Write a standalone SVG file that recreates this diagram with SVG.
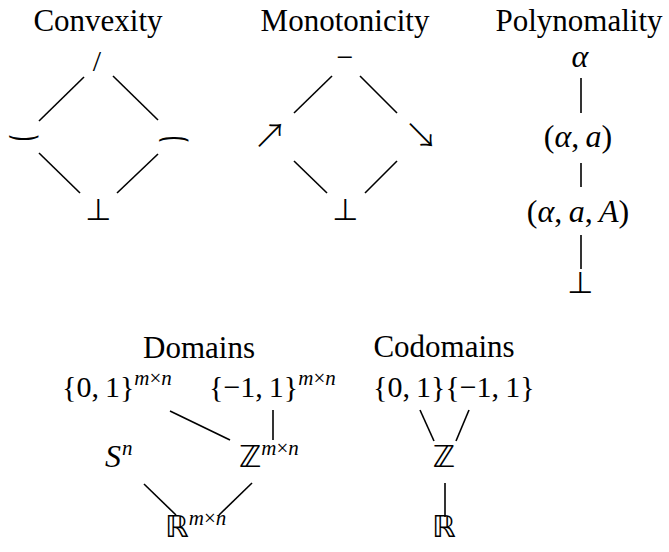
<svg xmlns="http://www.w3.org/2000/svg" width="669" height="552" viewBox="0 0 669 552">
  <style>
    text { font-family: "Liberation Serif", "DejaVu Serif", serif; fill: #000; }
    .title { font-size: 31px; text-anchor: middle; }
    .m { font-size: 30px; }
    .p { font-size: 32px; }
    .c { text-anchor: middle; }
    .i { font-style: italic; }
    .sup { font-size: 21px; font-style: italic; }
    .up { font-style: normal; }
    .sym { font-family: "DejaVu Sans", "DejaVu Serif", sans-serif; }
    .arr { font-family: "Noto Sans CJK JP", "DejaVu Sans", sans-serif; font-size: 34px; font-weight: 300; }
    .edges line { stroke: #000; stroke-width: 1.6; }
  </style>
  <rect width="669" height="552" fill="#fff"/>

  <!-- Convexity lattice -->
  <g id="convexity">
    <text class="title" x="98" y="31">Convexity</text>
    <g id="cvx-top"><text class="m c" x="97" y="71">/</text></g>
    <g id="cvx-convex"><text class="m c sym" transform="translate(24,146) scale(1.8,1)">⌣</text></g>
    <g id="cvx-concave"><text class="m c sym" transform="translate(174,146) scale(1.8,1)">⌢</text></g>
    <g id="cvx-bottom"><text class="m c sym" x="98" y="220">⊥</text></g>
  </g>

  <!-- Monotonicity lattice -->
  <g id="monotonicity">
    <text class="title" x="345" y="31">Monotonicity</text>
    <g id="mon-top"><text class="m c" x="345" y="67">−</text></g>
    <g id="mon-inc"><text class="c arr" x="270" y="148">↗</text></g>
    <g id="mon-dec"><text class="c arr" x="421" y="148">↘</text></g>
    <g id="mon-bottom"><text class="m c sym" x="345" y="220">⊥</text></g>
  </g>

  <!-- Polynomality chain -->
  <g id="polynomality">
    <text class="title" x="579" y="31">Polynomality</text>
    <g id="pol-alpha"><text class="p c i" x="580" y="67">α</text></g>
    <g id="pol-alpha-a"><text class="p c" x="578" y="147">(<tspan class="i">α</tspan>,&#8201;<tspan class="i">a</tspan>)</text></g>
    <g id="pol-alpha-a-A"><text class="p c" x="578" y="222">(<tspan class="i">α</tspan>,&#8201;<tspan class="i">a</tspan>,&#8201;<tspan class="i">A</tspan>)</text></g>
    <g id="pol-bottom"><text class="m c sym" x="580" y="293">⊥</text></g>
  </g>

  <!-- Domains lattice -->
  <g id="domains">
    <text class="title" x="199" y="358">Domains</text>
    <g id="dom-binary"><text class="m" x="62" y="397">{0,&#8201;1}<tspan class="sup" dy="-12">m</tspan><tspan class="sup up">×</tspan><tspan class="sup">n</tspan></text></g>
    <g id="dom-sign"><text class="m" x="209" y="397">{−1,&#8201;1}<tspan class="sup" dy="-12">m</tspan><tspan class="sup up">×</tspan><tspan class="sup">n</tspan></text></g>
    <g id="dom-perm"><text class="m" x="105" y="467"><tspan class="i" style="font-size:32px">S</tspan><tspan class="sup" dy="-12" dx="1">n</tspan></text></g>
    <g id="dom-int"><text class="m" x="239" y="467"><tspan class="sym">ℤ</tspan><tspan class="sup" dy="-12">m</tspan><tspan class="sup up">×</tspan><tspan class="sup">n</tspan></text></g>
    <g id="dom-real"><text class="m" x="165" y="537"><tspan class="sym">ℝ</tspan><tspan class="sup" dy="-12">m</tspan><tspan class="sup up">×</tspan><tspan class="sup">n</tspan></text></g>
  </g>

  <!-- Codomains lattice -->
  <g id="codomains">
    <text class="title" x="444" y="357">Codomains</text>
    <g id="cod-sets"><text class="m" x="373" y="397">{0,&#8201;1}{−1,&#8201;1}</text></g>
    <g id="cod-int"><text class="m c sym" x="444" y="467">ℤ</text></g>
    <g id="cod-real"><text class="m c sym" x="444" y="537">ℝ</text></g>
  </g>

  <!-- Hasse diagram edges -->
  <g class="edges" id="edges">
    <line x1="84" y1="77" x2="39" y2="121"/>
    <line x1="113" y1="76" x2="158" y2="120"/>
    <line x1="39" y1="153" x2="80" y2="193"/>
    <line x1="158" y1="154" x2="117" y2="193"/>

    <line x1="332" y1="76" x2="294" y2="113"/>
    <line x1="360" y1="76" x2="397" y2="113"/>
    <line x1="294" y1="161" x2="327" y2="193"/>
    <line x1="397" y1="161" x2="365" y2="193"/>

    <line x1="581" y1="78" x2="581" y2="113"/>
    <line x1="581" y1="163" x2="581" y2="187"/>
    <line x1="581" y1="235" x2="581" y2="269"/>

    <line x1="170" y1="411" x2="230" y2="440"/>
    <line x1="273" y1="410" x2="273" y2="440"/>
    <line x1="144" y1="484" x2="176" y2="515"/>
    <line x1="252" y1="483" x2="219" y2="515"/>

    <line x1="420" y1="410" x2="434" y2="441"/>
    <line x1="469" y1="410" x2="456" y2="441"/>
    <line x1="445" y1="483" x2="445" y2="517"/>
  </g>
</svg>
